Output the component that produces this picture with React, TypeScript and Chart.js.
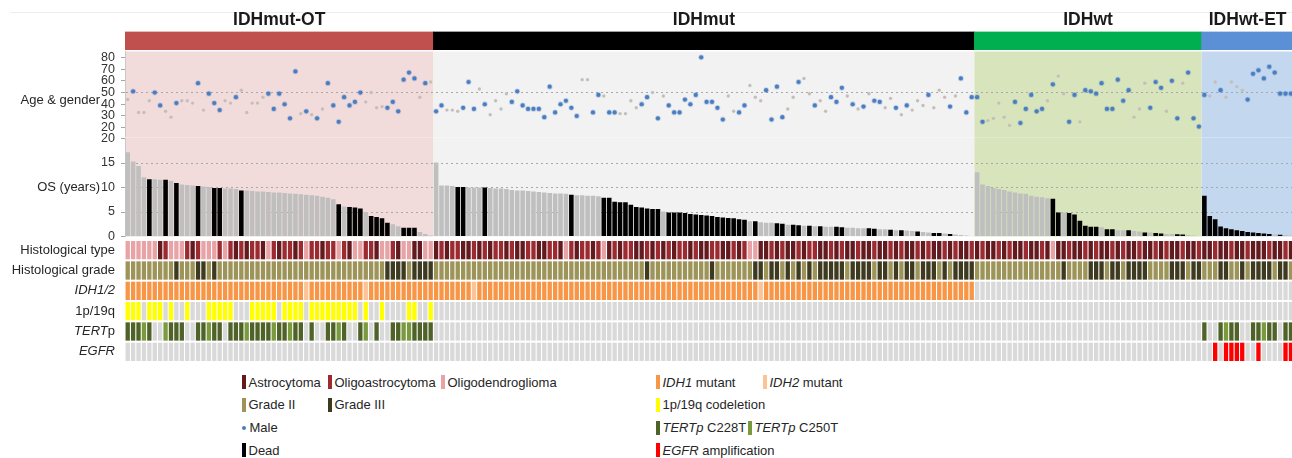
import React, { useEffect, useRef } from 'react';
import { Chart, registerables } from 'chart.js';

Chart.register(...registerables);

const FONT = "'Liberation Sans', Arial, Helvetica, sans-serif";

// ---------------- data ----------------
const groupNames = ['IDHmut-OT', 'IDHmut', 'IDHwt', 'IDHwt-ET'];

// age at diagnosis (years), one per patient column
const ageOT = [44, 51, 33, 33, 43, 50, 39, 34, 29, 41, 43, 43, 41, 58, 35, 49, 41, 35, 43, 41, 46, 52, 33, 41, 41, 46, 49, 36, 49, 40, 28, 68, 32, 34, 31, 28, 36, 58, 39, 25, 46, 39, 42, 50, 42, 50, 37, 38, 37, 42, 34, 61, 67, 62, 46, 58, 59];
const ageMut = [34, 39, 35, 35, 34, 37, 59, 36, 53, 40, 31, 43, 36, 49, 42, 51, 39, 36, 36, 36, 29, 55, 33, 40, 43, 37, 30, 61, 61, 33, 48, 47, 33, 33, 32, 32, 43, 37, 40, 46, 50, 28, 47, 39, 33, 33, 44, 40, 48, 80, 42, 42, 37, 27, 47, 34, 33, 39, 56, 46, 43, 52, 27, 55, 29, 36, 46, 59, 62, 49, 39, 43, 34, 46, 42, 54, 47, 40, 36, 38, 49, 43, 42, 37, 45, 37, 31, 39, 35, 43, 39, 48, 37, 52, 46, 38, 47, 62, 33, 46];
const ageWt = [46, 25, 26, 28, 41, 29, 22, 42, 24, 36, 48, 34, 36, 43, 57, 64, 49, 25, 48, 25, 52, 51, 49, 58, 36, 36, 61, 43, 52, 29, 36, 58, 37, 59, 54, 34, 60, 28, 58, 67, 28, 21];
const ageET = [48, 47, 59, 52, 46, 59, 55, 52, 44, 66, 69, 62, 72, 67, 49, 49, 49];

// overall survival (years)
const osOT = [17.2, 15.3, 14.4, 12.1, 11.7, 11.7, 11.6, 11.6, 11.4, 10.9, 10.6, 10.5, 10.4, 10.3, 10.2, 10.1, 9.9, 9.9, 9.8, 9.8, 9.7, 9.4, 9.4, 9.3, 9.2, 9.2, 9.1, 9.0, 9.0, 8.9, 8.8, 8.7, 8.6, 8.5, 8.4, 8.3, 8.1, 7.9, 7.6, 6.6, 6.1, 6.0, 5.9, 5.7, 5.0, 4.2, 4.0, 3.7, 2.8, 2.5, 2.1, 1.8, 1.8, 1.8, 0.9, 0.5, 0.2];
const osMut = [15.1, 10.4, 10.4, 10.3, 10.1, 10.1, 10.0, 10.0, 10.0, 10.0, 9.9, 9.8, 9.8, 9.7, 9.5, 9.4, 9.4, 9.3, 9.2, 9.1, 9.0, 8.9, 8.8, 8.8, 8.7, 8.5, 8.4, 8.4, 8.3, 8.3, 8.2, 7.9, 7.9, 7.1, 7.0, 7.0, 6.5, 6.0, 5.9, 5.7, 5.6, 5.6, 5.1, 4.9, 4.9, 4.9, 4.8, 4.6, 4.5, 4.4, 4.3, 4.2, 4.0, 3.9, 3.8, 3.7, 3.5, 3.4, 3.1, 3.1, 2.9, 2.8, 2.8, 2.7, 2.6, 2.4, 2.4, 2.3, 2.2, 2.2, 2.1, 2.1, 2.0, 2.0, 2.0, 1.9, 1.8, 1.8, 1.7, 1.7, 1.7, 1.6, 1.5, 1.5, 1.4, 1.3, 1.3, 1.2, 1.1, 1.0, 0.9, 0.8, 0.7, 0.7, 0.6, 0.5, 0.4, 0.3, 0.2, 0.1];
const osWt = [13.1, 10.6, 10.3, 9.9, 9.7, 9.5, 9.2, 9.0, 8.8, 8.7, 8.3, 8.1, 8.0, 7.8, 7.7, 4.9, 4.9, 4.8, 4.5, 3.2, 2.2, 2.0, 2.0, 1.9, 1.5, 1.5, 1.3, 1.3, 1.3, 1.1, 1.0, 0.8, 0.8, 0.7, 0.6, 0.5, 0.5, 0.45, 0.4, 0.3, 0.2, 0.1];
const osET = [8.3, 4.2, 3.5, 2.05, 1.7, 1.5, 1.3, 1.1, 0.9, 0.8, 0.7, 0.6, 0.5, 0.4, 0.35, 0.3, 0.2];

// gender: 1 = male, 0 = female
const maleOT = '0100011001 0001011100 1000001111 1101010111 1111000011 1111010';
const maleMut = '1100011101 0000111111 1111111001 1011000011 0101111111 1111001100 0111100100 1001110101 0110010100 0100010111';
const maleWt = '1100000111 1110100110 1111111110 0011101101 11';
const maleET = '10010000111111111';

// vital status: 1 = dead
const deadOT = '0000100101 0001001100 0100000000 0000000001 0111011110 0111000';
const deadMut = '0000110001 0000000000 0000010000 0111111111 1101111111 1111111101 0001101101 0100110000 1100101001 0011010000';
const deadWt = '0000000000 0000110111 1110110010 0101100110 00';
const deadET = '11111111111110100';

// histological type: A = astrocytoma, M = oligoastrocytoma, O = oligodendroglioma
const histOT = 'OOOOOOAMOO OMAMOOOMOM AMAMMAOMAM MAMOMMAMMO MAOOMMAOOM AOOAAOO';
const histMut = 'AMAMMAAMAM AMMAMAAMMA AMMAOMAMMA MOAMAMMAAM AMAMAMMAMA AMMAAMAMOO AAMAMAAMAM MAAMAMAAMA AMAAMAMAAM AMAAMAMAAM';
const histWt = 'AMAAMAMAAM AAMAOAAMAA MAMAAMAMAA MAAMAMAAMA AM';
const histET = 'AAMAAMAAMAAAMAAMA';

// WHO grade: 2 = II, 3 = III
const gradeOT = '2222222223 2223323222 2222222222 2222222222 2222222233 3323333';
const gradeMut = '2222222222 2222222222 2222222222 2222222223 2222222222 2322222223 3233232323 2333332333 3233232332 3332323333';
const gradeWt = '2222222222 2222223222 2333233233 3322223332 33';
const gradeET = '22233223233332332';

// IDH: 1 = IDH1 mutant, 2 = IDH2 mutant, 0 = wild type
const idhOT = '1111111111 1111111111 1111111111 1112111111 1111211111 1111111';
const idhMut = '1111111211 1111111111 1111111111 1111111111 1111111111 1111111111 2111111111 1111111111 1111111111 1111111111';
const idhWt = '0000000000 0000000000 0000000000 0000000000 00';
const idhET = '00000000000000000';

// 1p/19q codeletion: 1 = codeleted
const codelOT = '1110111010 0100011111 0001111101 1110111111 1110100100 0011001';
const codelMut = '0000000000 0000000000 0000000000 0000000000 0000000000 0000000000 0000000000 0000000000 0000000000 0000000000';
const codelWt = '0000000000 0000000000 0000000000 0000000000 00';
const codelET = '00000000000000000';

// TERT promoter: 1 = C228T, 2 = C250T, 0 = wild type
const tertOT = '1112100211 1001121101 1121111211 2110100112 1001201001 1221111';
const tertMut = '0000000000 0000000000 0000000000 0000000000 0000000000 0000000000 0000000000 0000000000 0000000000 0000000000';
const tertWt = '0000000000 0000000000 0000000000 0000000000 00';
const tertET = '10012110011211011';

// EGFR amplification: 1 = amplified
const egfrOT = '0000000000 0000000000 0000000000 0000000000 0000000000 0000000';
const egfrMut = '0000000000 0000000000 0000000000 0000000000 0000000000 0000000000 0000000000 0000000000 0000000000 0000000000';
const egfrWt = '0000000000 0000000000 0000000000 0000000000 00';
const egfrET = '00101111001000011';

const ageTicks = [20, 30, 40, 50, 60, 70, 80];
const osTicks = [0, 5, 10, 15, 20];

// ---------------- styling ----------------
const PLOT_LEFT = 125;
const X_MAX = 215.7;
const headerColors = ['#C0504D', '#000000', '#00B050', '#5B8FD6'];
const bgColors = ['#F2DCDB', '#F2F2F2', '#D8E4BC', '#C3D7EF'];
const MALE = '#4A7EC2';
const FEMALE = '#C6BEB8';
const ALIVE = '#BFBFBF';
const DEAD = '#000000';
const EMPTY = '#D9D9D9';
const GRID = '#A8A8A8';
const histColor: any = { A: '#621A1F', M: '#9C2A31', O: '#E8A3A6' };
const gradeColor: any = { '2': '#9C9459', '3': '#3E3A20' };
const idhColor: any = { '0': EMPTY, '1': '#F79646', '2': '#FBC396' };
const codelColor: any = { '0': EMPTY, '1': '#FFFF00' };
const tertColor: any = { '0': EMPTY, '1': '#4F6228', '2': '#7A9A3E' };
const egfrColor: any = { '0': EMPTY, '1': '#FF0000' };

// ---------------- derived ----------------
const seq = (...parts: string[]) => parts.join('').replace(/\s+/g, '').split('');
const groupAges = [ageOT, ageMut, ageWt, ageET];
const groupSizes = groupAges.map((a) => a.length);
const groupStarts = groupSizes.map((_, i) => groupSizes.slice(0, i).reduce((s, v) => s + v, 0));
const groupRanges = groupSizes.map((n, i) => [groupStarts[i], groupStarts[i] + n]);
const ages = groupAges.flat();
const osAll = [osOT, osMut, osWt, osET].flat();
const male = seq(maleOT, maleMut, maleWt, maleET).map((c) => c === '1');
const dead = seq(deadOT, deadMut, deadWt, deadET).map((c) => c === '1');

const tracks = [
  { codes: seq(histOT, histMut, histWt, histET), colors: histColor, label: [['Histological type', false]] },
  { codes: seq(gradeOT, gradeMut, gradeWt, gradeET), colors: gradeColor, label: [['Histological grade', false]] },
  { codes: seq(idhOT, idhMut, idhWt, idhET), colors: idhColor, label: [['IDH1/2', true]] },
  { codes: seq(codelOT, codelMut, codelWt, codelET), colors: codelColor, label: [['1p/19q', false]] },
  { codes: seq(tertOT, tertMut, tertWt, tertET), colors: tertColor, label: [['TERT', true], ['p', false]] },
  { codes: seq(egfrOT, egfrMut, egfrWt, egfrET), colors: egfrColor, label: [['EGFR', true]] },
];

// ---------------- plugins ----------------
const bgPlugin = (extendTop: number, extendBottom: number) => ({
  id: 'groupBg',
  beforeDraw(chart: any) {
    const { ctx, chartArea } = chart;
    const xs = chart.scales.x;
    ctx.save();
    groupRanges.forEach(([a, b], i) => {
      const x0 = Math.max(chartArea.left, xs.getPixelForValue(a));
      const x1 = Math.min(chartArea.right, xs.getPixelForValue(b));
      ctx.fillStyle = bgColors[i];
      const top = chartArea.top - extendTop;
      ctx.fillRect(x0, top, x1 - x0, chartArea.bottom + extendBottom - top);
    });
    ctx.restore();
  },
});

const titlePlugin = {
  id: 'groupTitles',
  afterDraw(chart: any) {
    const { ctx, chartArea } = chart;
    const xs = chart.scales.x;
    ctx.save();
    ctx.font = `bold 17.5px ${FONT}`;
    ctx.fillStyle = '#1A1A1A';
    ctx.textAlign = 'center';
    ctx.textBaseline = 'middle';
    groupRanges.forEach(([a, b], i) => {
      ctx.fillText(groupNames[i], xs.getPixelForValue((a + b) / 2), chartArea.top - 11.5);
    });
    ctx.restore();
  },
};

const sideLabel = (text: string, value: number) => ({
  id: 'sideLabel',
  afterDraw(chart: any) {
    const { ctx } = chart;
    const ys = chart.scales.y;
    ctx.save();
    ctx.font = `13px ${FONT}`;
    ctx.fillStyle = '#262626';
    ctx.textAlign = 'right';
    ctx.textBaseline = 'middle';
    ctx.fillText(text, 100, ys.getPixelForValue(value));
    ctx.restore();
  },
});

const rowLabelPlugin = {
  id: 'rowLabels',
  afterDraw(chart: any) {
    const { ctx } = chart;
    const ys = chart.scales.y;
    ctx.save();
    ctx.fillStyle = '#262626';
    ctx.textBaseline = 'middle';
    ctx.textAlign = 'left';
    tracks.forEach((t, k) => {
      const y = ys.getPixelForValue(k + 0.5);
      const parts = t.label as any[];
      const widths = parts.map(([s, it]) => {
        ctx.font = `${it ? 'italic ' : ''}13px ${FONT}`;
        return ctx.measureText(s).width;
      });
      let x = 115 - widths.reduce((s: number, w: number) => s + w, 0);
      parts.forEach(([s, it], i) => {
        ctx.font = `${it ? 'italic ' : ''}13px ${FONT}`;
        ctx.fillText(s, x, y);
        x += widths[i];
      });
    });
    ctx.restore();
  },
};

const noPlugins = { legend: { display: false }, tooltip: { enabled: false } };
const xLinear = { type: 'linear', min: 0, max: X_MAX, display: false, offset: false };

const leftAxis = (min: number, max: number, ticks: number[], gridAt: number[]) => ({
  type: 'linear',
  min,
  max,
  afterFit: (s: any) => {
    s.width = PLOT_LEFT;
  },
  afterBuildTicks: (s: any) => {
    s.ticks = ticks.map((v) => ({ value: v }));
  },
  ticks: { font: { family: FONT, size: 12.5 }, color: '#333333', padding: 6, autoSkip: false },
  grid: {
    color: (c: any) => (c.tick && gridAt.includes(c.tick.value) ? GRID : 'rgba(0,0,0,0)'),
    tickColor: '#A6A6A6',
    tickLength: 4,
    lineWidth: 1,
  },
  border: { display: true, color: '#C8C8C8', width: 1, dash: [2, 3] },
});

// ---------------- chart configs ----------------
const headerConfig = (): any => ({
  type: 'bar',
  data: {
    labels: ['g'],
    datasets: [
      {
        data: groupRanges.map((r) => ({ x: r, y: 'g' })),
        backgroundColor: headerColors,
        borderWidth: 0,
        barPercentage: 1,
        categoryPercentage: 1,
        grouped: false,
      },
    ],
  },
  options: {
    indexAxis: 'y',
    responsive: false,
    animation: false,
    layout: { autoPadding: false, padding: { left: PLOT_LEFT, right: 0, top: 31.5, bottom: 2 } },
    scales: { x: xLinear, y: { type: 'category', display: false } },
    plugins: noPlugins,
  },
  plugins: [titlePlugin],
});

const ageConfig = (): any => ({
  type: 'scatter',
  data: {
    datasets: [
      {
        data: ages.map((a, i) => ({ x: i + 0.5, y: a })),
        pointBackgroundColor: male.map((m) => (m ? MALE : FEMALE)),
        pointBorderColor: male.map((m) => (m ? 'rgba(74,126,194,0.28)' : 'rgba(0,0,0,0)')),
        pointBorderWidth: male.map((m) => (m ? 1.6 : 0)),
        pointRadius: male.map((m) => (m ? 2.1 : 1.7)),
      },
    ],
  },
  options: {
    responsive: false,
    animation: false,
    layout: { autoPadding: false, padding: { left: 0, right: 0, top: 12, bottom: 13 } },
    scales: { x: xLinear, y: leftAxis(12.5, 85, ageTicks, [50]) },
    plugins: noPlugins,
  },
  plugins: [bgPlugin(0, 1), sideLabel('Age & gender', 43)],
});

const osConfig = (): any => ({
  type: 'bar',
  data: {
    datasets: [
      {
        data: osAll.map((v, i) => ({ x: i + 0.5, y: v })),
        backgroundColor: dead.map((d) => (d ? DEAD : ALIVE)),
        borderWidth: 0,
        barPercentage: 0.85,
        categoryPercentage: 1,
        grouped: false,
      },
    ],
  },
  options: {
    responsive: false,
    animation: false,
    layout: { autoPadding: false, padding: { left: 0, right: 0, top: 12, bottom: 10 } },
    scales: { x: xLinear, y: leftAxis(0, 20, osTicks, [5, 10, 15]) },
    plugins: noPlugins,
  },
  plugins: [bgPlugin(1, 0), sideLabel('OS (years)', 10)],
});

const tracksConfig = (): any => ({
  type: 'bar',
  data: {
    datasets: tracks.map((t, k) => ({
      data: t.codes.map((_, i) => ({ x: i + 0.5, y: [k + 0.05, k + 0.95] })),
      backgroundColor: t.codes.map((c) => t.colors[c]),
      borderWidth: 0,
      borderSkipped: false,
      barPercentage: 0.8,
      categoryPercentage: 1,
      grouped: false,
    })),
  },
  options: {
    responsive: false,
    animation: false,
    layout: { autoPadding: false, padding: { left: PLOT_LEFT, right: 0, top: 0, bottom: 0 } },
    scales: { x: xLinear, y: { type: 'linear', min: 0, max: tracks.length, reverse: true, display: false } },
    plugins: noPlugins,
  },
  plugins: [rowLabelPlugin],
});

// ---------------- components ----------------
const W = 1292;

function ChartCanvas({ top, height, make }: { top: number; height: number; make: () => any }) {
  const ref = useRef<HTMLCanvasElement | null>(null);
  useEffect(() => {
    const chart = new Chart(ref.current as HTMLCanvasElement, make());
    return () => chart.destroy();
  }, []);
  return (
    <canvas
      ref={ref}
      width={W}
      height={height}
      style={{ position: 'absolute', left: 0, top, width: W, height, display: 'block' }}
    />
  );
}

type Part = [string, boolean];
const legendRows = [382, 404.5, 427.5, 450];
const legendItems: { left: number; row: number; color: string; dot?: boolean; parts: Part[] }[] = [
  { left: 242, row: 0, color: histColor.A, parts: [['Astrocytoma', false]] },
  { left: 328, row: 0, color: histColor.M, parts: [['Oligoastrocytoma', false]] },
  { left: 441, row: 0, color: histColor.O, parts: [['Oligodendroglioma', false]] },
  { left: 242, row: 1, color: gradeColor['2'], parts: [['Grade II', false]] },
  { left: 328, row: 1, color: gradeColor['3'], parts: [['Grade III', false]] },
  { left: 242, row: 2, color: MALE, dot: true, parts: [['Male', false]] },
  { left: 242, row: 3, color: DEAD, parts: [['Dead', false]] },
  { left: 656, row: 0, color: idhColor['1'], parts: [['IDH1', true], [' mutant', false]] },
  { left: 763, row: 0, color: idhColor['2'], parts: [['IDH2', true], [' mutant', false]] },
  { left: 656, row: 1, color: codelColor['1'], parts: [['1p/19q codeletion', false]] },
  { left: 656, row: 2, color: tertColor['1'], parts: [['TERTp', true], [' C228T', false]] },
  { left: 748, row: 2, color: tertColor['2'], parts: [['TERTp', true], [' C250T', false]] },
  { left: 656, row: 3, color: egfrColor['1'], parts: [['EGFR', true], [' amplification', false]] },
];

function Legend() {
  return (
    <>
      {legendItems.map((it, i) => (
        <div
          key={i}
          style={{
            position: 'absolute',
            left: it.left,
            top: legendRows[it.row] - 8,
            height: 16,
            display: 'flex',
            alignItems: 'center',
            whiteSpace: 'nowrap',
            font: `13px ${FONT}`,
            color: '#262626',
          }}
        >
          {it.dot ? (
            <span style={{ width: 4, height: 4, borderRadius: 2, background: it.color, marginRight: 3.5 }} />
          ) : (
            <span style={{ width: 4, height: 14, background: it.color, marginRight: 2.5 }} />
          )}
          <span>
            {it.parts.map(([t, ital], j) => (
              <span key={j} style={{ fontStyle: ital ? 'italic' : 'normal' }}>
                {t}
              </span>
            ))}
          </span>
        </div>
      ))}
    </>
  );
}

export default function App() {
  return (
    <div
      style={{
        position: 'fixed',
        left: 0,
        top: 0,
        width: W,
        height: 458,
        background: '#FFFFFF',
        overflow: 'hidden',
        fontFamily: FONT,
      }}
    >
      <div style={{ position: 'absolute', left: 10, top: 12, width: W - 10, height: 0, borderTop: '1px solid #EDEDED' }} />
      <ChartCanvas top={0} height={52} make={headerConfig} />
      <ChartCanvas top={38} height={112} make={ageConfig} />
      <ChartCanvas top={125} height={125} make={osConfig} />
      <ChartCanvas top={240} height={122} make={tracksConfig} />
      <Legend />
    </div>
  );
}
